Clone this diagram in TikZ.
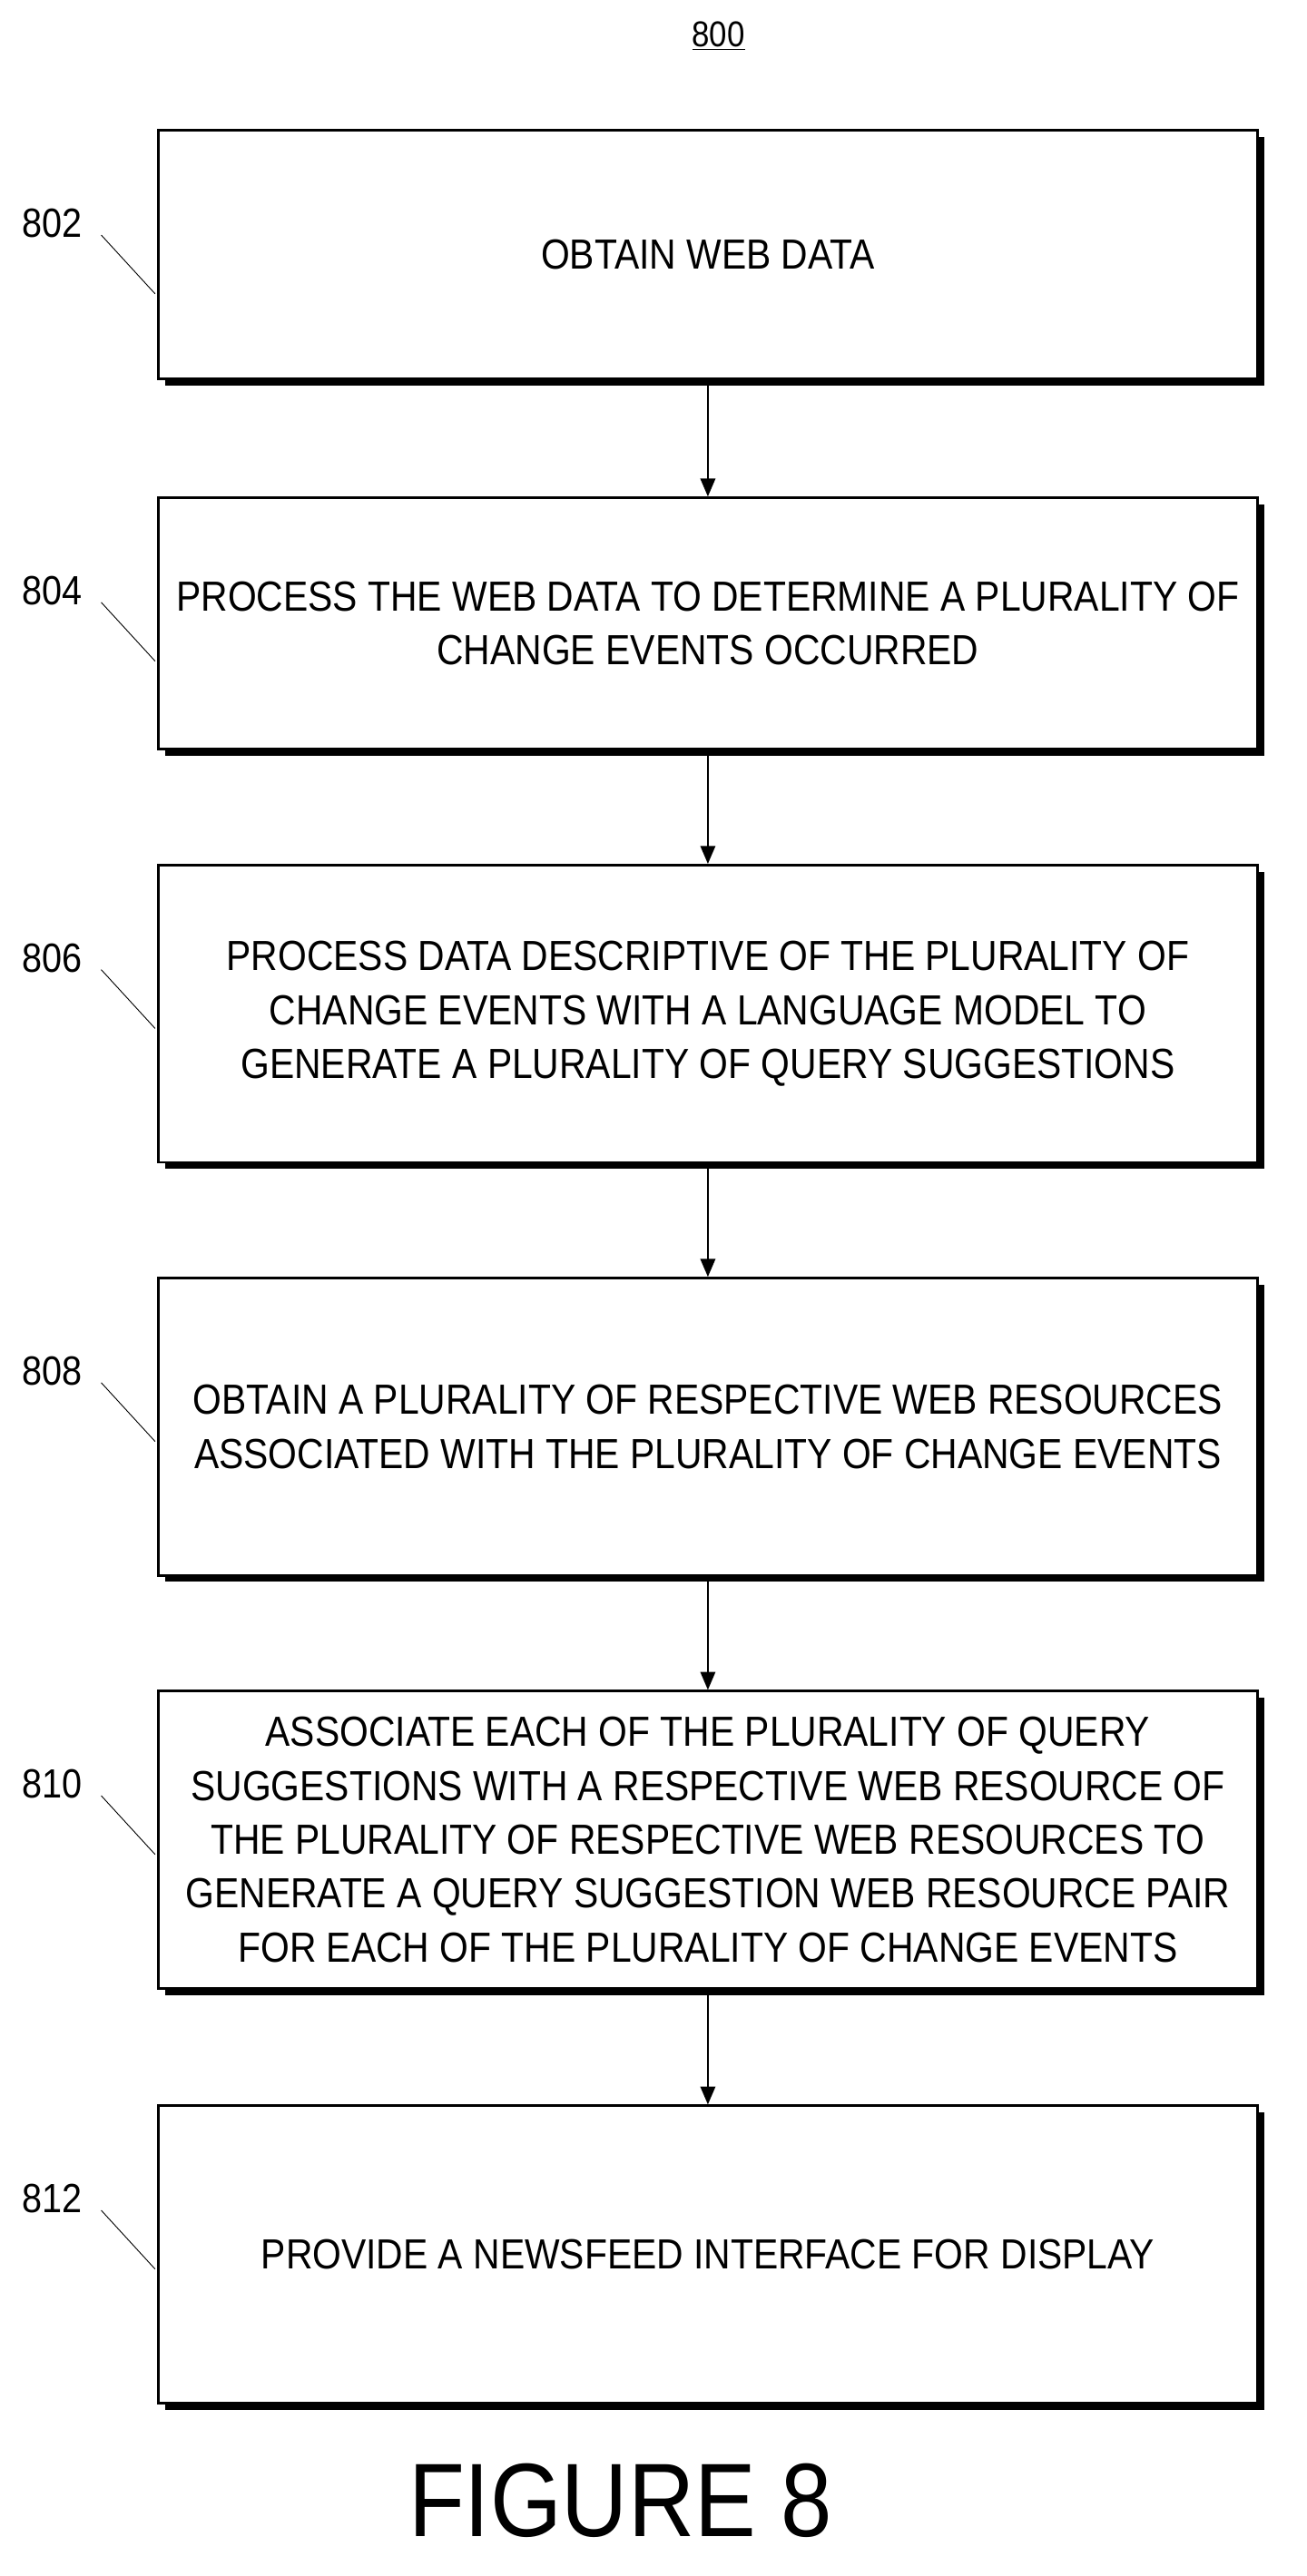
\documentclass[tikz,border=0pt]{standalone}
\usepackage{fontspec}
\setmainfont{Liberation Sans}[FakeStretch=0.88]
\usetikzlibrary{arrows.meta}
\begin{document}
\begin{tikzpicture}[x=1pt,y=-1pt,
 box/.style={draw,line width=1.6pt,minimum width=673pt,align=center,font=\fontsize{25.8}{33}\selectfont,fill=white},
 arr/.style={-{Triangle[length=11pt,width=9pt]},line width=1.4pt},
 lab/.style={font=\fontsize{25}{28}\selectfont},
 lead/.style={line width=0.5pt}]
\useasboundingbox (0,0) rectangle (800,1578);
\node[font=\fontsize{22}{26}\selectfont] (t) at (440,22) {\underline{800}};
\def\mk#1#2#3#4#5{%
 \fill (97+4,#2-#3/2+4) rectangle (770+4,#2+#3/2+4);
 \node[box,minimum height=#3] (#1) at (433.5,#2) {#5};
 \node[lab] (l#1) at (32,#2-#3/2+57) {#4};
 \coordinate (c#1) at (95,#2-#3/2+100);
 \draw[lead] (62,#2-#3/2+64) -- (c#1);}
\mk{a}{156}{152}{802}{OBTAIN WEB DATA}
\mk{b}{382}{154}{804}{PROCESS THE WEB DATA TO DETERMINE A PLURALITY OF\\CHANGE EVENTS OCCURRED}
\mk{c}{621}{182}{806}{PROCESS DATA DESCRIPTIVE OF THE PLURALITY OF\\CHANGE EVENTS WITH A LANGUAGE MODEL TO\\GENERATE A PLURALITY OF QUERY SUGGESTIONS}
\mk{d}{874}{182}{808}{OBTAIN A PLURALITY OF RESPECTIVE WEB RESOURCES\\ASSOCIATED WITH THE PLURALITY OF CHANGE EVENTS}
\mk{e}{1127}{182}{810}{ASSOCIATE EACH OF THE PLURALITY OF QUERY\\SUGGESTIONS WITH A RESPECTIVE WEB RESOURCE OF\\THE PLURALITY OF RESPECTIVE WEB RESOURCES TO\\GENERATE A QUERY SUGGESTION WEB RESOURCE PAIR\\FOR EACH OF THE PLURALITY OF CHANGE EVENTS}
\mk{f}{1381}{182}{812}{PROVIDE A NEWSFEED INTERFACE FOR DISPLAY}
\draw[arr] (a.south) -- (b.north);
\draw[arr] (b.south) -- (c.north);
\draw[arr] (c.south) -- (d.north);
\draw[arr] (d.south) -- (e.north);
\draw[arr] (e.south) -- (f.north);
\node[font=\fontsize{64}{70}\selectfont] (fig) at (380,1532) {FIGURE 8};
\end{tikzpicture}
\end{document}
